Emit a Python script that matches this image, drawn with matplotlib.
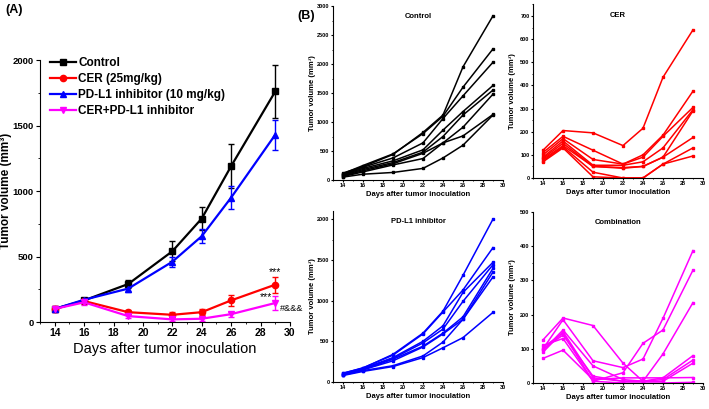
import matplotlib.pyplot as plt
from matplotlib.ticker import MultipleLocator
from matplotlib.lines import Line2D

plt.rcParams['font.family'] = ['Liberation Sans', 'DejaVu Sans']

# days after inoculation
days = [14, 16, 19, 22, 24, 26, 29]

# Panel A: group means and error bars
ctrl_mean = [100, 165, 290, 540, 790, 1190, 1760]
ctrl_err = [15, 15, 30, 75, 90, 165, 205]
cer_mean = [100, 160, 75, 55, 75, 165, 285]
cer_err = [20, 20, 20, 20, 25, 40, 60]
pd_mean = [100, 170, 255, 460, 655, 950, 1430]
pd_err = [15, 15, 25, 40, 55, 90, 115]
combo_mean = [100, 150, 45, 20, 25, 60, 145]
combo_err = [20, 20, 15, 10, 15, 20, 50]

# Panel B: individual mice
ctrl_ind = [
    [120, 230, 440, 820, 1120, 1950, 2830],
    [110, 250, 450, 800, 1100, 1600, 2260],
    [100, 220, 380, 640, 1060, 1450, 2030],
    [90, 200, 330, 520, 860, 1180, 1630],
    [80, 180, 300, 480, 750, 1120, 1550],
    [70, 160, 280, 460, 640, 910, 1480],
    [60, 140, 260, 370, 640, 760, 1130],
    [50, 100, 130, 200, 380, 600, 1120],
]
cer_ind = [
    [120, 205, 195, 140, 215, 435, 640],
    [110, 180, 120, 60, 100, 185, 375],
    [100, 170, 80, 60, 90, 180, 305],
    [90, 160, 55, 55, 70, 130, 295],
    [85, 150, 50, 45, 50, 90, 290],
    [80, 140, 50, 42, 50, 90, 175],
    [75, 135, 25, 0, 0, 60, 130],
    [70, 130, 5, 0, 0, 60, 95],
]
pd_ind = [
    [110, 170, 340, 600, 870, 1310, 2000],
    [105, 175, 330, 590, 860, 1130, 1650],
    [100, 165, 300, 500, 690, 1100, 1470],
    [95, 160, 290, 480, 650, 990, 1440],
    [90, 150, 280, 440, 600, 800, 1395],
    [90, 150, 260, 430, 590, 770, 1350],
    [85, 140, 200, 320, 490, 770, 1290],
    [80, 130, 190, 300, 420, 545, 855],
]
combo_ind = [
    [100, 185, 65, 45, 70, 189, 387],
    [105, 145, 5, 30, 116, 155, 330],
    [126, 190, 168, 58, 5, 85, 235],
    [95, 155, 50, 10, 5, 15, 80],
    [100, 140, 20, 5, 5, 10, 67],
    [90, 150, 15, 5, 5, 5, 58],
    [72, 96, 10, 15, 15, 15, 16],
    [110, 130, 5, 0, 0, 0, 2],
]

fig = plt.figure(figsize=(7.09, 4.09), dpi=100)


def style_axes(ax, fs, tlen, pad):
    ax.spines['top'].set_visible(False)
    ax.spines['right'].set_visible(False)
    ax.tick_params(direction='out', labelsize=fs, length=tlen, width=0.8, pad=pad)
    ax.tick_params(which='minor', direction='out', length=tlen * 0.6, width=0.6)
    for lab in ax.get_xticklabels() + ax.get_yticklabels():
        lab.set_fontweight('bold')


# ---- Panel A ----
axA = fig.add_axes([0.0564, 0.2127, 0.3526, 0.6406])
groups = [
    (ctrl_mean, ctrl_err, 'black', 's', 'Control'),
    (cer_mean, cer_err, 'red', 'o', 'CER (25mg/kg)'),
    (pd_mean, pd_err, 'blue', '^', 'PD-L1 inhibitor (10 mg/kg)'),
    (combo_mean, combo_err, 'magenta', 'v', 'CER+PD-L1 inhibitor'),
]
handles = []
for m, e, c, mk, lab in groups:
    axA.errorbar(days, m, yerr=e, color=c, marker=mk, ms=4.5, lw=1.6,
                 capsize=2.5, elinewidth=1)
    handles.append(Line2D([], [], color=c, marker=mk, ms=4.5, lw=1.6, label=lab))
axA.set_xlim(13, 30)
axA.set_ylim(0, 2000)
axA.xaxis.set_major_locator(MultipleLocator(2))
axA.xaxis.set_minor_locator(MultipleLocator(1))
axA.yaxis.set_major_locator(MultipleLocator(500))
axA.yaxis.set_minor_locator(MultipleLocator(250))
style_axes(axA, 6.8, 3, 1.5)
for lab in axA.get_xticklabels():
    lab.set_fontsize(7.5)
axA.set_xlabel('Days after tumor inoculation', fontsize=10.5, labelpad=3)
axA.set_ylabel('Tumor volume (mm³)', fontsize=8.5, fontweight='bold')
axA.yaxis.set_label_coords(-0.11, 0.5)
axA.legend(handles=handles, loc='upper left', bbox_to_anchor=(0.02, 1.03), frameon=False,
           prop={'weight': 'bold', 'size': 8.5}, handlelength=2.2,
           handletextpad=0.2, labelspacing=0.35, borderaxespad=0)
axA.text(29.0, 380, '***', ha='center', va='center', fontsize=7.5)
axA.text(28.4, 190, '***', ha='center', va='center', fontsize=7.5)
axA.text(29.3, 100, '#&&&', ha='left', va='center', fontsize=6.5)

fig.text(0.007, 0.975, '(A)', fontsize=9, fontweight='bold', va='center')
fig.text(0.420, 0.960, '(B)', fontsize=9, fontweight='bold', va='center')

# ---- Panel B ----
small = [
    ([0.4697, 0.5599, 0.2397, 0.4254], ctrl_ind, 'black', 'Control', 3000, 500),
    ([0.7518, 0.5648, 0.2397, 0.4245], cer_ind, 'red', 'CER', 750, 100),
    ([0.4697, 0.0660, 0.2397, 0.4181], pd_ind, 'blue', 'PD-L1 inhibitor', 2100, 500),
    ([0.7518, 0.0636, 0.2397, 0.4181], combo_ind, 'magenta', 'Combination', 500, 100),
]
for rect, series, c, title, ytop, ystep in small:
    ax = fig.add_axes(rect)
    for s in series:
        ax.plot(days, s, color=c, lw=1.1, marker='s', ms=1.8)
    ax.set_xlim(13, 30)
    ax.set_ylim(0, ytop)
    ax.xaxis.set_major_locator(MultipleLocator(2))
    ax.xaxis.set_minor_locator(MultipleLocator(1))
    ax.yaxis.set_major_locator(MultipleLocator(ystep))
    ax.yaxis.set_minor_locator(MultipleLocator(ystep / 2))
    style_axes(ax, 4, 1.5, 1)
    ax.set_xlabel('Days after tumor inoculation', fontsize=5.5, fontweight='bold', labelpad=2)
    ax.set_ylabel('Tumor volume (mm³)', fontsize=5.5, fontweight='bold')
    ax.yaxis.set_label_coords(-0.098, 0.5)
    ax.set_title(title, fontsize=5.5, fontweight='bold', y=0.93, pad=0)

fig.savefig('out.png', dpi=100)
